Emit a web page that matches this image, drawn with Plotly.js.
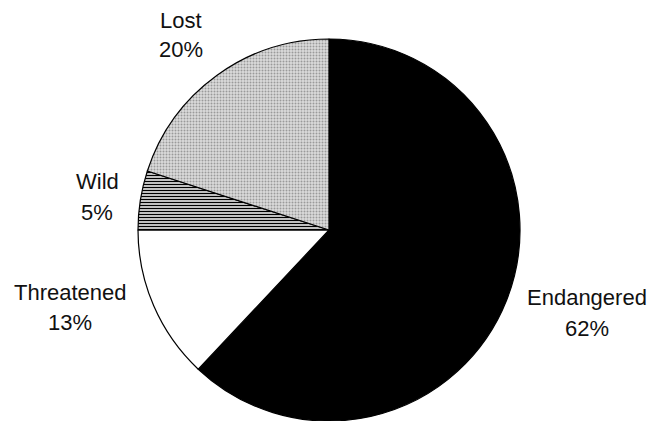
<!DOCTYPE html>
<html><head><meta charset="utf-8">
<script src="https://cdn.plot.ly/plotly-3.0.1.min.js"></script>
<style>html,body{margin:0;padding:0;background:#fff}#chart{width:653px;height:421px}</style>
</head><body><div id="chart"></div>
<script>
const labels = ["Endangered", "Threatened", "Wild", "Lost"];
const values = [62, 13, 5, 20];
const pctText = values.map(v => v + "%");

const fills = ["#000000", "#ffffff", "#ffffff", "#dcdcdc"];
const shapes = ["", "", "-", "."];
const fgs = ["#000000", "#000000", "#000000", "#9a9a9a"];
const sizes = [4, 4, 3, 3];
const solid = [0.3, 0.3, 0.5, 0.35];

// label positions in pixels (name line, percent line) – layout only
const labelPos = [
  {x: 587, y1: 297, y2: 328},
  {x: 70, y1: 292, y2: 322},
  {x: 97, y1: 181, y2: 212},
  {x: 181, y1: 20, y2: 50}
];
const W = 653, H = 421;
const font = {family: "Liberation Sans, Arial, sans-serif", size: 22, color: "#111"};
const annotations = [];
labels.forEach((l, i) => {
  const p = labelPos[i];
  annotations.push({text: l, x: p.x / W, y: 1 - p.y1 / H, xref: "paper", yref: "paper",
    showarrow: false, xanchor: "center", yanchor: "middle", font});
  annotations.push({text: pctText[i], x: p.x / W, y: 1 - p.y2 / H, xref: "paper", yref: "paper",
    showarrow: false, xanchor: "center", yanchor: "middle", font});
});

const trace = {
  type: "pie",
  labels: labels,
  values: values,
  sort: false,
  direction: "clockwise",
  rotation: 0,
  textinfo: "none",
  hoverinfo: "label+percent",
  marker: {
    colors: fills,
    line: {color: "#000", width: 1.2},
    pattern: {shape: shapes, fgcolor: fgs, bgcolor: fills, size: sizes, solidity: solid, fillmode: "replace"}
  },
  domain: {x: [(329 - 192) / W, (329 + 192) / W], y: [0, 1 - 39 / H]},
  showlegend: false
};

Plotly.newPlot("chart", [trace], {
  width: W, height: H,
  margin: {l: 0, r: 0, t: 0, b: 0},
  paper_bgcolor: "#fff",
  plot_bgcolor: "#fff",
  annotations: annotations,
  showlegend: false
}, {displayModeBar: false, staticPlot: true});
</script></body></html>
